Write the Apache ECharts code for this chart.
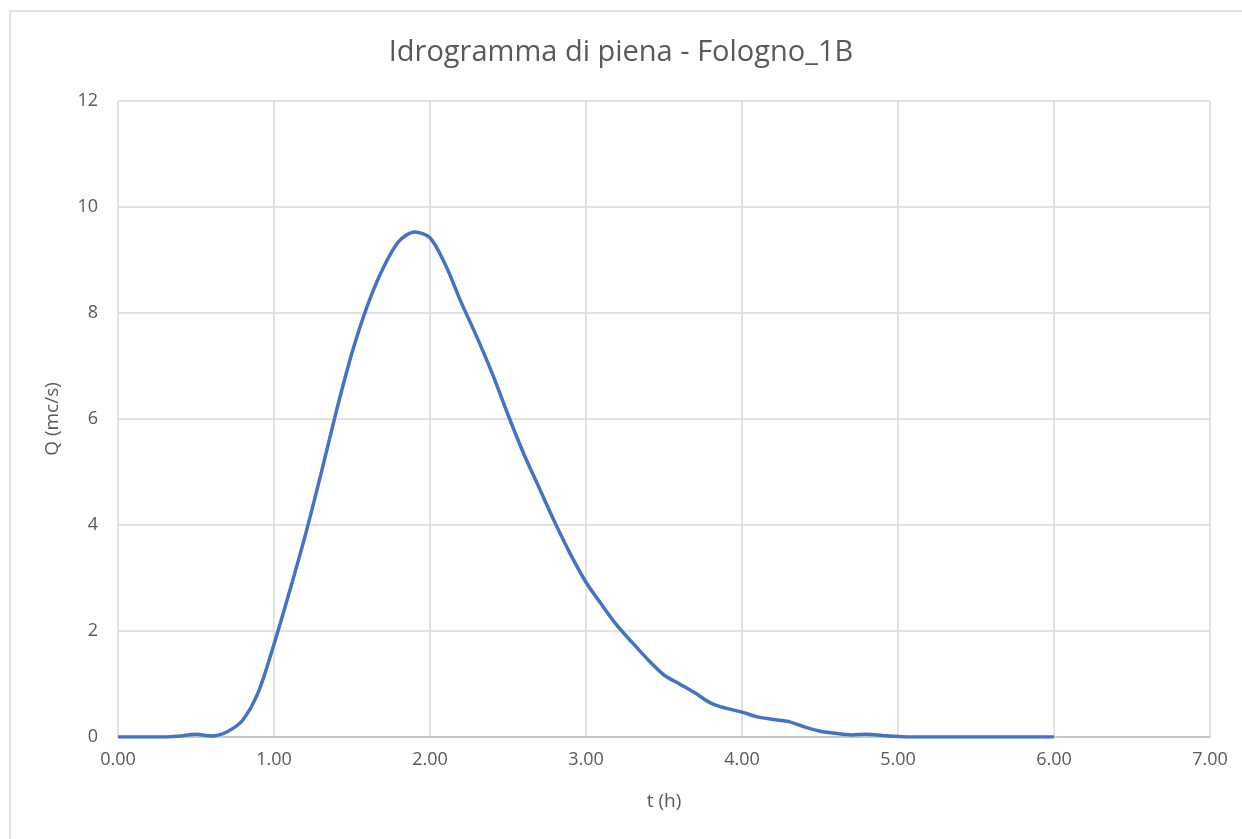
<!DOCTYPE html>
<html>
<head>
<meta charset="utf-8">
<script src="https://cdn.jsdelivr.net/npm/echarts@6/dist/echarts.min.js"></script>
<style>
html,body{margin:0;padding:0;background:#fff;}
#c{width:1242px;height:839px;}
</style>
</head>
<body>
<div id="c"></div>
<script>
var titleText = 'Idrogramma di piena - Fologno_1B';
var xName = 't (h)';
var yName = 'Q (mc/s)';
var tValues = [0.0,0.1,0.2,0.3,0.4,0.5,0.6,0.7,0.8,0.9,1.0,1.1,1.2,1.3,1.4,1.5,1.6,1.7,1.8,1.9,2.0,2.1,2.2,2.3,2.4,2.5,2.6,2.7,2.8,2.9,3.0,3.1,3.2,3.3,3.4,3.5,3.6,3.7,3.8,3.9,4.0,4.1,4.2,4.3,4.4,4.5,4.6,4.7,4.8,4.9,5.0,5.1,5.2,5.3,5.4,5.5,5.6,5.7,5.8,5.9,6.0];
var qValues = [0,0,0,0,0.02,0.05,0.02,0.1,0.32,0.85,1.75,2.75,3.8,4.95,6.15,7.25,8.15,8.85,9.35,9.53,9.42,8.9,8.2,7.55,6.85,6.08,5.35,4.7,4.05,3.45,2.92,2.5,2.1,1.77,1.45,1.17,1.0,0.83,0.64,0.54,0.47,0.38,0.33,0.29,0.19,0.11,0.07,0.04,0.05,0.03,0.01,0,0,0,0,0,0,0,0,0,0];

var chart = echarts.init(document.getElementById('c'));
var data = tValues.map(function(t,i){return [t,qValues[i]];});
var font = '"Open Sans", "Liberation Sans", sans-serif';
chart.setOption({
  animation:false,
  backgroundColor:'#ffffff',
  graphic:[{type:'rect',shape:{x:10,y:11,width:1300,height:900},style:{fill:'none',stroke:'#d9d9d9',lineWidth:1.5},silent:true}],
  title:{text:titleText,left:'center',top:33,textStyle:{fontFamily:font,fontSize:29,fontWeight:'normal',color:'#595959'}},
  grid:{left:118,right:32,top:101,bottom:102},
  xAxis:{type:'value',min:0,max:7,interval:1,name:xName,nameLocation:'middle',nameGap:55,
    nameTextStyle:{fontFamily:font,fontSize:19,color:'#595959'},
    axisLine:{show:true,lineStyle:{color:'#bfbfbf',width:1.5}},axisTick:{show:false},
    axisLabel:{formatter:function(v){return v.toFixed(2);},fontFamily:font,fontSize:18,color:'#595959',margin:14},
    splitLine:{show:true,lineStyle:{color:'#d9d9d9',width:1.5}}},
  yAxis:{type:'value',min:0,max:12,interval:2,name:yName,nameLocation:'middle',nameGap:56,nameRotate:90,
    nameTextStyle:{fontFamily:font,fontSize:19,color:'#595959'},
    axisLine:{show:false},axisTick:{show:false},
    axisLabel:{fontFamily:font,fontSize:18,color:'#595959',margin:20},
    splitLine:{show:true,lineStyle:{color:'#d9d9d9',width:1.5}}},
  series:[{type:'line',data:data,smooth:0.3,showSymbol:false,lineStyle:{color:'#4472c4',width:3.5},itemStyle:{color:'#4472c4'}}]
});
</script>
</body>
</html>
